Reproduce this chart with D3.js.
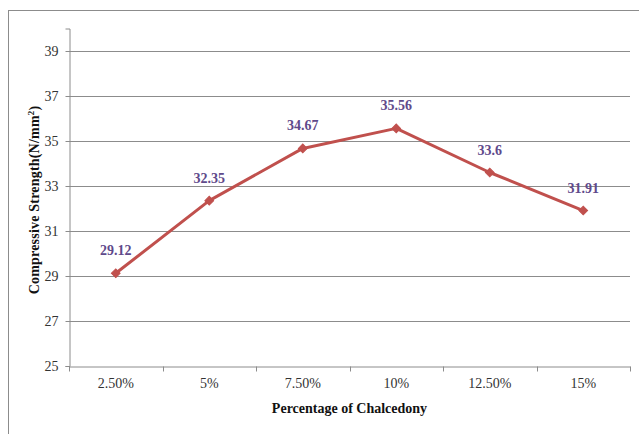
<!DOCTYPE html>
<html>
<head>
<meta charset="utf-8">
<script src="https://d3js.org/d3.v7.min.js"></script>
<style>
  html, body { margin: 0; padding: 0; background: #fff; }
  svg { display: block; }
  text { font-family: "Liberation Serif", "Times New Roman", serif; }
</style>
</head>
<body>
<svg id="chart" width="639" height="434"></svg>
<script>
// Compressive strength by chalcedony replacement level
const categories = ["2.50%", "5%", "7.50%", "10%", "12.50%", "15%"];
const strength = [29.12, 32.35, 34.67, 35.56, 33.6, 31.91];
const yTicks = [25, 27, 29, 31, 33, 35, 37, 39];
const yDomain = [25, 40];

const svg = d3.select("#chart");
const W = 639, H = 434;
const plot = { left: 69, right: 630, top: 28.5, bottom: 366 };

// outer chart frame
svg.append("rect")
  .attr("x", 8.5).attr("y", 10.5)
  .attr("width", W).attr("height", H)
  .attr("fill", "#fff")
  .attr("stroke", "#8c8c8c")
  .attr("stroke-width", 1);

const x = d3.scaleBand().domain(categories).range([plot.left, plot.right]).padding(0);
const y = d3.scaleLinear().domain(yDomain).range([plot.bottom, plot.top]);

// horizontal gridlines
svg.append("g")
  .selectAll("line")
  .data(yTicks.filter(t => t > yDomain[0]))
  .join("line")
  .attr("x1", plot.left).attr("x2", plot.right)
  .attr("y1", d => Math.round(y(d)) + 0.5).attr("y2", d => Math.round(y(d)) + 0.5)
  .attr("stroke", "#8c8c8c").attr("stroke-width", 1);

// y axis
const yAxis = svg.append("g")
  .attr("transform", `translate(${plot.left + 0.5},0)`)
  .call(d3.axisLeft(y).tickValues(yTicks).tickSize(4).tickPadding(7).tickFormat(d3.format("d")));
yAxis.select(".domain").attr("stroke", "#8c8c8c");
yAxis.selectAll(".tick line").attr("stroke", "#8c8c8c");
yAxis.selectAll(".tick text")
  .attr("font-size", 14).attr("fill", "#333")
  .style("font-family", "'Liberation Serif', serif");

// x axis with ticks at category boundaries
const xAxis = svg.append("g")
  .attr("transform", `translate(0,${Math.round(plot.bottom) + 0.5})`)
  .call(d3.axisBottom(x).tickSize(0).tickPadding(12));
xAxis.select(".domain").attr("stroke", "#8c8c8c");
xAxis.selectAll(".tick text")
  .attr("font-size", 14).attr("fill", "#333")
  .style("font-family", "'Liberation Serif', serif");
xAxis.selectAll(".boundary")
  .data(categories.map(c => x(c)).concat([plot.right]))
  .join("line")
  .attr("class", "boundary")
  .attr("x1", d => Math.round(d) + 0.5).attr("x2", d => Math.round(d) + 0.5)
  .attr("y1", 0).attr("y2", 5)
  .attr("stroke", "#8c8c8c");

// data line
const cx = d => x(d.cat) + x.bandwidth() / 2;
const pts = categories.map((c, i) => ({ cat: c, v: strength[i] }));

svg.append("path")
  .datum(pts)
  .attr("fill", "none")
  .attr("stroke", "#C0504D")
  .attr("stroke-width", 3)
  .attr("stroke-linejoin", "round")
  .attr("d", d3.line().x(cx).y(d => y(d.v)));

// diamond markers (square turned 45 degrees)
svg.append("g")
  .selectAll("path")
  .data(pts)
  .join("path")
  .attr("transform", d => `translate(${cx(d)},${y(d.v)}) rotate(45)`)
  .attr("d", d3.symbol(d3.symbolSquare, 38))
  .attr("fill", "#C0504D")
  .attr("stroke", "#C0504D");

// value labels
svg.append("g")
  .selectAll("text")
  .data(pts)
  .join("text")
  .attr("x", cx)
  .attr("y", d => y(d.v) - 18)
  .attr("text-anchor", "middle")
  .attr("font-size", 14)
  .attr("font-weight", "bold")
  .attr("fill", "#5F4A8B")
  .text(d => d.v);

// axis titles
svg.append("text")
  .attr("x", (plot.left + plot.right) / 2)
  .attr("y", 413)
  .attr("text-anchor", "middle")
  .attr("font-size", 14)
  .attr("font-weight", "bold")
  .attr("fill", "#111")
  .text("Percentage of Chalcedony");

const yTitle = svg.append("text")
  .attr("transform", "translate(39,200) rotate(-90)")
  .attr("text-anchor", "middle")
  .attr("font-size", 14)
  .attr("font-weight", "bold")
  .attr("letter-spacing", 0.2)
  .attr("fill", "#111");
yTitle.append("tspan").text("Compressive  Strength(N/mm");
yTitle.append("tspan").attr("baseline-shift", "super").attr("font-size", 9).text("2");
yTitle.append("tspan").text(")");
</script>
</body>
</html>
